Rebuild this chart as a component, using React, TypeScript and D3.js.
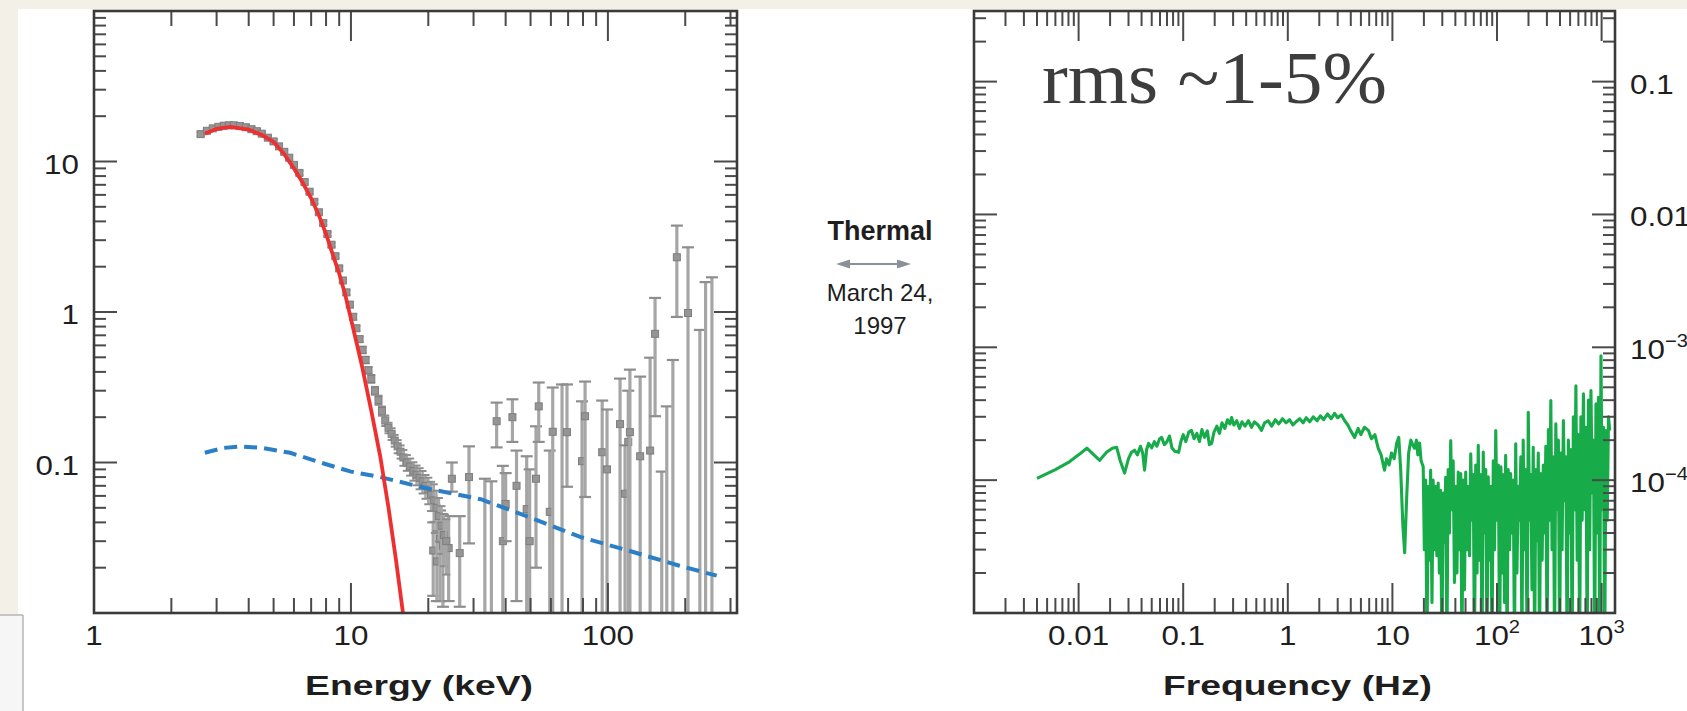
import React from "react";
import * as d3 from "d3";

const W = 1687;
const H = 711;
const SANS = "'Liberation Sans', Arial, Helvetica, sans-serif";
const SERIF = "'Liberation Serif', 'DejaVu Serif', serif";

// ---------------- Left panel: energy spectrum ----------------
const energyTickValues = [1, 10, 100];
const energyTickLabels = ["1", "10", "100"];
const fluxTickValues = [10, 1, 0.1];
const fluxTickLabels = ["10", "1", "0.1"];

// thermal (red) model
const thermalEnergy = [2.7, 3.0, 3.4, 4.0, 4.5, 5.0, 5.5, 6.0, 6.5, 7.0, 7.5, 8.0, 8.5, 9.0, 9.5, 10, 11, 12, 13, 14, 15, 16, 16.5];
const thermalFlux = [15.3, 16.5, 17.0, 16.3, 15.0, 13.5, 11.2, 9.0, 7.2, 5.7, 4.4, 3.3, 2.4, 1.8, 1.3, 0.9, 0.45, 0.22, 0.11, 0.05, 0.022, 0.0095, 0.006];

// non-thermal (blue dashed) model
const nonthermalEnergy = [2.7, 3.2, 3.7, 4.5, 5.8, 7.6, 10, 13, 20, 32, 50, 78, 120, 190, 265];
const nonthermalFlux = [0.116, 0.125, 0.128, 0.125, 0.116, 0.1, 0.087, 0.08, 0.067, 0.057, 0.043, 0.032, 0.026, 0.0206, 0.0177];

// dense data points (grey)
const dataEnergy = [2.6, 2.75, 2.9, 3.05, 3.2, 3.35, 3.5, 3.7, 3.9, 4.1, 4.3, 4.5, 4.75, 5.0, 5.25, 5.5, 5.75, 6.0, 6.3, 6.6, 6.9, 7.2, 7.5, 7.8, 8.1, 8.4, 8.7, 9.0, 9.3, 9.6, 9.9, 10.2, 10.5, 10.8, 11.1, 11.4, 11.7, 12.0, 12.4, 12.8, 13.2, 13.6, 14.0, 14.4, 14.8, 15.2, 15.6, 16.0, 16.5, 17.0, 17.5, 18.0, 18.5, 19.0, 19.5, 20.0, 20.5, 21.0, 21.5, 22.0, 22.5, 23.0, 23.5];
const dataFlux = [15.2, 16.0, 16.6, 17.0, 17.3, 17.4, 17.4, 17.2, 16.9, 16.4, 15.9, 15.3, 14.4, 13.6, 12.6, 11.6, 10.6, 9.5, 8.4, 7.3, 6.3, 5.4, 4.6, 3.9, 3.3, 2.8, 2.35, 1.95, 1.62, 1.35, 1.12, 0.93, 0.78, 0.66, 0.56, 0.48, 0.41, 0.36, 0.30, 0.26, 0.22, 0.19, 0.17, 0.155, 0.14, 0.128, 0.118, 0.108, 0.10, 0.094, 0.088, 0.083, 0.079, 0.075, 0.07, 0.066, 0.061, 0.056, 0.05, 0.044, 0.038, 0.033, 0.03];
const dataRelErr = [0.03, 0.03, 0.03, 0.03, 0.03, 0.03, 0.03, 0.03, 0.03, 0.03, 0.03, 0.03, 0.03, 0.03, 0.03, 0.03, 0.03, 0.03, 0.03, 0.03, 0.03, 0.03, 0.03, 0.03, 0.03, 0.03, 0.03, 0.03, 0.03, 0.04, 0.04, 0.04, 0.04, 0.04, 0.05, 0.05, 0.05, 0.06, 0.06, 0.07, 0.07, 0.08, 0.08, 0.09, 0.09, 0.1, 0.1, 0.12, 0.12, 0.13, 0.14, 0.15, 0.16, 0.17, 0.18, 0.2, 0.22, 0.28, 0.3, 0.32, 0.35, 0.38, 0.4];

// sparse high-energy points with large error bars
const scatterEnergy = [20.9, 21.6, 22.2, 22.8, 24.0, 24.7, 26.5, 28.8, 33.2, 35.2, 36.9, 39.0, 40.0, 42.5, 44.1, 48.3, 49.6, 52.5, 53.8, 59.4, 61.0, 66.3, 69.3, 79.3, 81.5, 95.0, 99.2, 111.5, 116.6, 120.0, 121.8, 133.5, 146.0, 152.6, 162.0, 169.5, 179.0, 185.5, 205.0, 228.0, 240.0, 254.0];
const scatterFlux = [0.026, 0.022, 0.031, 0.028, 0.027, 0.078, 0.025, 0.08, 0.007, 0.007, 0.188, 0.03, 0.053, 0.2, 0.07, 0.049, 0.03, 0.078, 0.236, 0.047, 0.16, 0.007, 0.159, 0.102, 0.203, 0.117, 0.09, 0.18, 0.062, 0.137, 0.159, 0.11, 0.12, 0.716, 0.006, 0.006, 0.006, 2.31, 0.985, 0.006, 0.006, 0.006];
const scatterLow = [0.013, 0.012, 0.012, 0.011, 0.012, 0.064, 0.011, 0.029, 0.001, 0.001, 0.126, 0.004, 0.03, 0.137, 0.012, 0.01, 0.004, 0.02, 0.137, 0.005, 0.004, 0.001, 0.069, 0.004, 0.059, 0.004, 0.004, 0.004, 0.004, 0.004, 0.004, 0.004, 0.004, 0.203, 0.001, 0.001, 0.001, 0.927, 0.004, 0.001, 0.001, 0.001];
const scatterHigh = [0.04, 0.034, 0.048, 0.045, 0.044, 0.1, 0.044, 0.128, 0.078, 0.075, 0.25, 0.095, 0.085, 0.263, 0.12, 0.11, 0.09, 0.174, 0.34, 0.12, 0.315, 0.33, 0.33, 0.255, 0.345, 0.258, 0.225, 0.361, 0.13, 0.3, 0.414, 0.372, 0.497, 1.24, 0.087, 0.236, 0.48, 3.75, 2.69, 0.76, 1.58, 1.7];

// ---------------- Right panel: power spectrum ----------------
const freqTickValues = [0.01, 0.1, 1, 10, 100, 1000];
const freqTickLabels = [["0.01", ""], ["0.1", ""], ["1", ""], ["10", ""], ["10", "2"], ["10", "3"]];
const powerTickValues = [0.1, 0.01, 0.001, 0.0001];
const powerTickLabels = [["0.1", ""], ["0.01", ""], ["10", "\u22123"], ["10", "\u22124"]];

// low-frequency part of the PSD
const psdFrequency = [
  0.004, 0.006, 0.008, 0.01, 0.012, 0.014, 0.0159, 0.0185, 0.021, 0.0231, 0.025, 0.0275, 0.03, 0.032, 0.0343, 0.0365, 0.039, 0.041, 0.0427, 0.0447, 0.0467,
  0.05, 0.053, 0.056, 0.0595, 0.0622, 0.066, 0.07, 0.074, 0.078, 0.083, 0.0904, 0.095, 0.1, 0.106, 0.113, 0.12, 0.127, 0.135, 0.143, 0.151, 0.16, 0.17, 0.178, 0.187, 0.197,
  0.21, 0.222, 0.235, 0.25, 0.265, 0.28, 0.29, 0.305, 0.325, 0.345, 0.365, 0.39, 0.42, 0.45, 0.48, 0.52, 0.56, 0.6, 0.65, 0.7, 0.76, 0.82, 0.89, 0.96,
  1.04, 1.12, 1.2, 1.3, 1.4, 1.5, 1.62, 1.75, 1.9, 2.05, 2.2, 2.4, 2.6, 2.8, 3.0, 3.25, 3.5, 3.75, 4.0, 4.35, 4.7, 5.0, 5.4, 5.9, 6.3, 6.8, 7.3, 7.8, 8.4, 8.8, 9.3, 9.8,
  10.4, 11.0, 11.5, 12.0, 12.6, 13.1, 13.7, 14.3, 15.0, 15.6, 16.3, 17.0, 17.5, 18.2, 18.8
];
const psdPower = [
  1.03e-4, 1.2e-4, 1.36e-4, 1.55e-4, 1.74e-4, 1.55e-4, 1.41e-4, 1.62e-4, 1.74e-4, 1.77e-4, 1.4e-4, 1.13e-4, 1.45e-4, 1.62e-4, 1.68e-4, 1.55e-4, 1.8e-4, 1.6e-4, 1.19e-4, 1.7e-4, 1.89e-4,
  1.75e-4, 1.95e-4, 1.8e-4, 2.05e-4, 2.1e-4, 1.85e-4, 1.95e-4, 2.15e-4, 1.75e-4, 1.65e-4, 1.62e-4, 1.95e-4, 2.2e-4, 1.95e-4, 2.3e-4, 2.37e-4, 2.05e-4, 2.25e-4, 1.95e-4, 2.4e-4, 2.1e-4, 2.35e-4, 1.85e-4, 1.89e-4, 2.3e-4,
  2.55e-4, 2.25e-4, 2.7e-4, 2.45e-4, 2.85e-4, 2.65e-4, 2.96e-4, 2.6e-4, 2.8e-4, 2.45e-4, 2.75e-4, 2.55e-4, 2.8e-4, 2.5e-4, 2.75e-4, 2.6e-4, 2.37e-4, 2.7e-4, 2.8e-4, 2.55e-4, 2.85e-4, 2.65e-4, 2.9e-4, 2.7e-4,
  2.85e-4, 2.6e-4, 2.75e-4, 2.9e-4, 2.7e-4, 2.95e-4, 2.75e-4, 3.0e-4, 2.8e-4, 3.05e-4, 2.85e-4, 3.15e-4, 2.9e-4, 3.18e-4, 2.95e-4, 3.1e-4, 2.8e-4, 2.6e-4, 2.35e-4, 2.1e-4, 2.45e-4, 2.2e-4, 2.5e-4, 2.37e-4, 2.05e-4, 2.2e-4, 1.75e-4, 1.55e-4, 1.19e-4, 1.45e-4, 1.3e-4, 1.6e-4,
  1.45e-4, 1.9e-4, 2.1e-4, 1.2e-4, 4.5e-5, 2.84e-5, 7.5e-5, 1.6e-4, 2.0e-4, 1.85e-4, 1.74e-4, 2.0e-4, 1.55e-4, 1.9e-4, 1.4e-4
];

// high-frequency (noise dominated) part of the PSD: [frequency Hz, power]
const psdHighBand: [number, number][] = [
  [19.7, 1.26e-4], [20.2, 3.0e-5], [20.8, 1.0e-4], [21.4, 5e-6], [22.0, 9.0e-5], [22.6, 2.5e-5], [23.2, 1.19e-4], [23.9, 1.2e-5], [24.5, 1.0e-4], [25.2, 3.0e-5],
  [25.9, 9.0e-5], [26.6, 2.7e-5], [27.4, 9.5e-5], [28.1, 2.0e-5], [28.9, 8.4e-5], [29.7, 5e-6], [30.6, 8.0e-5], [31.4, 3.4e-5], [32.3, 1.05e-4], [33.2, 5e-6],
  [34.1, 1.2e-4], [35.1, 4.0e-5], [36.1, 1.99e-4], [37.1, 6.0e-5], [38.1, 1.4e-4], [39.2, 1.7e-5], [40.3, 9.0e-5], [41.4, 2.0e-5], [42.6, 1.15e-4], [43.8, 3.0e-5],
  [45.0, 1.12e-4], [46.2, 5e-6], [47.5, 1.0e-4], [48.9, 1.5e-5], [50.2, 1.15e-4], [51.6, 3.0e-5], [53.1, 9.0e-5], [54.6, 2.7e-5], [56.1, 1.58e-4], [57.7, 5.0e-5],
  [59.3, 1.1e-4], [60.9, 5e-6], [62.6, 1.3e-4], [64.4, 2.0e-5], [66.2, 1.83e-4], [68.0, 2.5e-5], [69.9, 1.1e-4], [71.9, 5e-6], [73.9, 1.63e-4], [75.9, 4.0e-5],
  [78.1, 1.2e-4], [80.2, 5e-6], [82.5, 1.06e-4], [84.8, 2.5e-5], [87.2, 9.0e-5], [89.6, 5e-6], [92.1, 1.4e-4], [94.7, 3.0e-5], [97.3, 2.36e-4], [100, 5.0e-5],
  [103, 1.3e-4], [106, 5e-6], [109, 1.26e-4], [112, 2.0e-5], [115, 1.1e-4], [118, 1.2e-5], [121, 1.54e-4], [125, 5e-6], [128, 1.2e-4], [132, 3.0e-5],
  [135, 1.12e-4], [139, 4.0e-5], [143, 1.0e-4], [147, 5e-6], [151, 1.88e-4], [155, 2.0e-5], [160, 9.0e-5], [164, 5.0e-5], [169, 1.5e-4], [173, 5e-6],
  [178, 2.0e-4], [183, 3.0e-5], [188, 1.2e-4], [194, 5e-6], [199, 3.24e-4], [205, 5.0e-5], [210, 1.1e-4], [216, 1.5e-5], [222, 1.77e-4], [229, 5e-6],
  [235, 1.2e-4], [242, 3.5e-5], [248, 1.6e-4], [255, 5e-6], [262, 1.12e-4], [270, 2.5e-5], [277, 1.3e-4], [285, 4.0e-5], [293, 1.8e-4], [301, 5e-6],
  [310, 2.4e-4], [318, 5.0e-5], [327, 3.97e-4], [336, 3.0e-5], [346, 1.5e-4], [355, 5e-6], [365, 2.65e-4], [375, 6.0e-5], [386, 2.0e-4], [397, 5e-6],
  [408, 1.6e-4], [419, 3.0e-5], [431, 2.81e-4], [443, 7.0e-5], [455, 1.5e-4], [468, 5e-6], [481, 2.0e-4], [495, 4.0e-5], [508, 1.7e-4], [523, 5e-6],
  [537, 3.0e-4], [552, 6.0e-5], [568, 5.14e-4], [584, 2.5e-5], [600, 2.2e-4], [617, 5e-6], [634, 3.0e-4], [652, 5.0e-5], [670, 4.46e-4], [689, 6.0e-5],
  [708, 2.5e-4], [728, 5e-6], [748, 4.0e-4], [769, 3.0e-5], [791, 4.72e-4], [813, 8.0e-5], [836, 2.0e-4], [859, 5e-6], [883, 3.75e-4], [908, 4.0e-5],
  [933, 4.2e-4], [959, 5e-6], [986, 8.63e-4], [1014, 6.0e-5], [1042, 2.5e-4], [1071, 5e-6], [1101, 2.36e-4], [1132, 5.0e-5], [1164, 3.0e-4], [1196, 2.36e-4]
];

// ---------------- geometry ----------------
const LP = { x0: 94, x1: 737, y0: 11, y1: 613 };
const RP = { x0: 974, x1: 1615, y0: 11, y1: 613 };

const isDecade = (v: number) => Math.abs(Math.log10(v) - Math.round(Math.log10(v))) < 1e-6;

function Frame({ p, xs, ys }: any) {
  const xt = xs.ticks();
  const yt = ys.ticks();
  const c = "#4a4a4a";
  return (
    <g>
      {xt.map((t: number, i: number) => {
        const x = xs(t);
        if (x < p.x0 + 1 || x > p.x1 - 1) return null;
        const len = isDecade(t) ? 30 : 15;
        return (
          <g key={"x" + i}>
            <line x1={x} x2={x} y1={p.y1} y2={p.y1 - len} stroke={c} strokeWidth={2} />
            <line x1={x} x2={x} y1={p.y0} y2={p.y0 + len} stroke={c} strokeWidth={2} />
          </g>
        );
      })}
      {yt.map((t: number, i: number) => {
        const y = ys(t);
        if (y < p.y0 + 1 || y > p.y1 - 1) return null;
        const len = isDecade(t) ? 23 : 12;
        return (
          <g key={"y" + i}>
            <line x1={p.x0} x2={p.x0 + len} y1={y} y2={y} stroke={c} strokeWidth={2} />
            <line x1={p.x1} x2={p.x1 - len} y1={y} y2={y} stroke={c} strokeWidth={2} />
          </g>
        );
      })}
      <rect x={p.x0} y={p.y0} width={p.x1 - p.x0} height={p.y1 - p.y0} fill="none" stroke="#3a3a3a" strokeWidth={2.6} />
    </g>
  );
}

function Lbl({ x, y, anchor = "middle", size = 28, sx = 1.12, weight = 400, children }: any) {
  return (
    <text transform={`translate(${x},${y}) scale(${sx},1)`} textAnchor={anchor} fontSize={size} fontWeight={weight} fontFamily={SANS} fill="#1e1e1e">
      {children}
    </text>
  );
}

function Fit({ x, y, w, size, weight = 400, family = SANS, fill = "#1e1e1e", children }: any) {
  return (
    <text x={x} y={y} textLength={w} lengthAdjust="spacingAndGlyphs" fontSize={size} fontWeight={weight} fontFamily={family} fill={fill}>
      {children}
    </text>
  );
}

export default function App() {
  const ex = d3.scaleLog().domain([1, 318]).range([LP.x0, LP.x1]);
  const ey = d3.scaleLog().domain([0.01, 100]).range([LP.y1, LP.y0]);
  const fx = d3.scaleLog().domain([0.001, 1343]).range([RP.x0, RP.x1]);
  const fy = d3.scaleLog().domain([1e-5, 0.34]).range([RP.y1, RP.y0]);

  const lineE = d3.line<number>().x((_, i) => ex(thermalEnergy[i])).y((d) => ey(d));
  const lineNT = d3.line<number>().x((_, i) => ex(nonthermalEnergy[i])).y((d) => ey(d));
  const psdRows: [number, number][] = psdFrequency.map((f, i) => [f, psdPower[i]] as [number, number]).concat(psdHighBand);
  const linePSD = d3.line<[number, number]>().x((d) => fx(d[0])).y((d) => fy(Math.max(d[1], 1e-7)));

  const barColor = "#a6a6a6";
  const capColor = "#8e8e8e";
  const markFill = "#959595";
  const midX = 880;

  return (
    <div style={{ position: "absolute", left: 0, top: 0, width: W, height: H, overflow: "hidden" }}>
      <svg width={W} height={H} style={{ display: "block" }}>
        <defs>
          <clipPath id="clipL">
            <rect x={LP.x0} y={LP.y0} width={LP.x1 - LP.x0} height={LP.y1 - LP.y0} />
          </clipPath>
          <clipPath id="clipR">
            <rect x={RP.x0} y={RP.y0} width={RP.x1 - RP.x0} height={RP.y1 - RP.y0} />
          </clipPath>
        </defs>
        <rect x={0} y={0} width={W} height={H} fill="#f3f0e8" />
        <rect x={18} y={9} width={W - 18} height={H - 9} fill="#ffffff" />
        <rect x={0} y={615} width={23} height={H - 615} fill="#f6f6f6" />
        <line x1={0} x2={23} y1={615} y2={615} stroke="#b4b4b4" strokeWidth={1.5} />
        <line x1={23} x2={23} y1={615} y2={H} stroke="#b4b4b4" strokeWidth={1.5} />

        {/* ---------- left panel ---------- */}
        <g clipPath="url(#clipL)">
          {scatterEnergy.map((e, i) => {
            const x = ex(e);
            const yh = ey(scatterHigh[i]);
            const yl = ey(scatterLow[i]);
            const showMark = scatterFlux[i] > 0.0105;
            return (
              <g key={"s" + i}>
                <line x1={x} x2={x} y1={yh} y2={yl} stroke={barColor} strokeWidth={3.2} />
                <line x1={x - 6} x2={x + 6} y1={yh} y2={yh} stroke={capColor} strokeWidth={2.2} />
                <line x1={x - 6} x2={x + 6} y1={yl} y2={yl} stroke={capColor} strokeWidth={2.2} />
                {showMark && <rect x={x - 3.5} y={ey(scatterFlux[i]) - 3.5} width={7} height={7} fill={markFill} stroke="#7e7e7e" strokeWidth={1} />}
              </g>
            );
          })}
          {dataEnergy.map((e, i) => {
            const x = ex(e);
            const f = dataFlux[i];
            const yh = ey(f * (1 + dataRelErr[i]));
            const yl = ey(f * (1 - dataRelErr[i]));
            return (
              <g key={"d" + i}>
                <line x1={x} x2={x} y1={yh} y2={yl} stroke={barColor} strokeWidth={2.5} />
                <line x1={x - 4} x2={x + 4} y1={yh} y2={yh} stroke={capColor} strokeWidth={2} />
                <line x1={x - 4} x2={x + 4} y1={yl} y2={yl} stroke={capColor} strokeWidth={2} />
                <rect x={x - 3.5} y={ey(f) - 3.5} width={7} height={7} fill={markFill} stroke="#7e7e7e" strokeWidth={1} />
              </g>
            );
          })}
          <path d={lineNT(nonthermalFlux) || ""} fill="none" stroke="#2b7fc6" strokeWidth={4} strokeDasharray="13 7" />
          <path d={lineE(thermalFlux) || ""} fill="none" stroke="#ee3030" strokeWidth={3.8} />
        </g>
        <Frame p={LP} xs={ex} ys={ey} />
        {energyTickValues.map((v, i) => (
          <Lbl key={"el" + i} x={ex(v)} y={645}>{energyTickLabels[i]}</Lbl>
        ))}
        {fluxTickValues.map((v, i) => (
          <Lbl key={"fl" + i} x={79} y={ey(v) + 12} anchor="end">{fluxTickLabels[i]}</Lbl>
        ))}
        <Fit x={305} y={695} w={228} size={28} weight={700}>Energy (keV)</Fit>

        {/* ---------- middle annotation ---------- */}
        <text x={midX} y={240} textAnchor="middle" fontSize={27} fontWeight={700} fontFamily={SANS} fill="#1e1e1e">Thermal</text>
        <line x1={846} x2={901} y1={264} y2={264} stroke="#8c9197" strokeWidth={2.2} />
        <path d="M836,264 L850,259.5 L850,268.5 Z" fill="#8c9197" />
        <path d="M911,264 L897,259.5 L897,268.5 Z" fill="#8c9197" />
        <text x={midX} y={301} textAnchor="middle" fontSize={24} fontFamily={SANS} fill="#1e1e1e">March 24,</text>
        <text x={midX} y={334} textAnchor="middle" fontSize={24} fontFamily={SANS} fill="#1e1e1e">1997</text>

        {/* ---------- right panel ---------- */}
        <g clipPath="url(#clipR)">
          <path d={linePSD(psdRows) || ""} fill="none" stroke="#17ab4a" strokeWidth={3.1} strokeLinejoin="round" />
        </g>
        <Frame p={RP} xs={fx} ys={fy} />
        {freqTickValues.map((v, i) => (
          <Lbl key={"fq" + i} x={fx(v)} y={645}>
            {freqTickLabels[i][0]}
            {freqTickLabels[i][1] && <tspan fontSize={18} dy={-12}>{freqTickLabels[i][1]}</tspan>}
          </Lbl>
        ))}
        {powerTickValues.map((v, i) => (
          <Lbl key={"pw" + i} x={1630} y={fy(v) + 12} anchor="start">
            {powerTickLabels[i][0]}
            {powerTickLabels[i][1] && <tspan fontSize={18} dy={-12}>{powerTickLabels[i][1]}</tspan>}
          </Lbl>
        ))}
        <Fit x={1163} y={695} w={269} size={28} weight={700}>Frequency (Hz)</Fit>
        <Fit x={1042} y={103} w={345} size={74} family={SERIF} fill="#3d3d3d">rms ~1-5%</Fit>
      </svg>
    </div>
  );
}
